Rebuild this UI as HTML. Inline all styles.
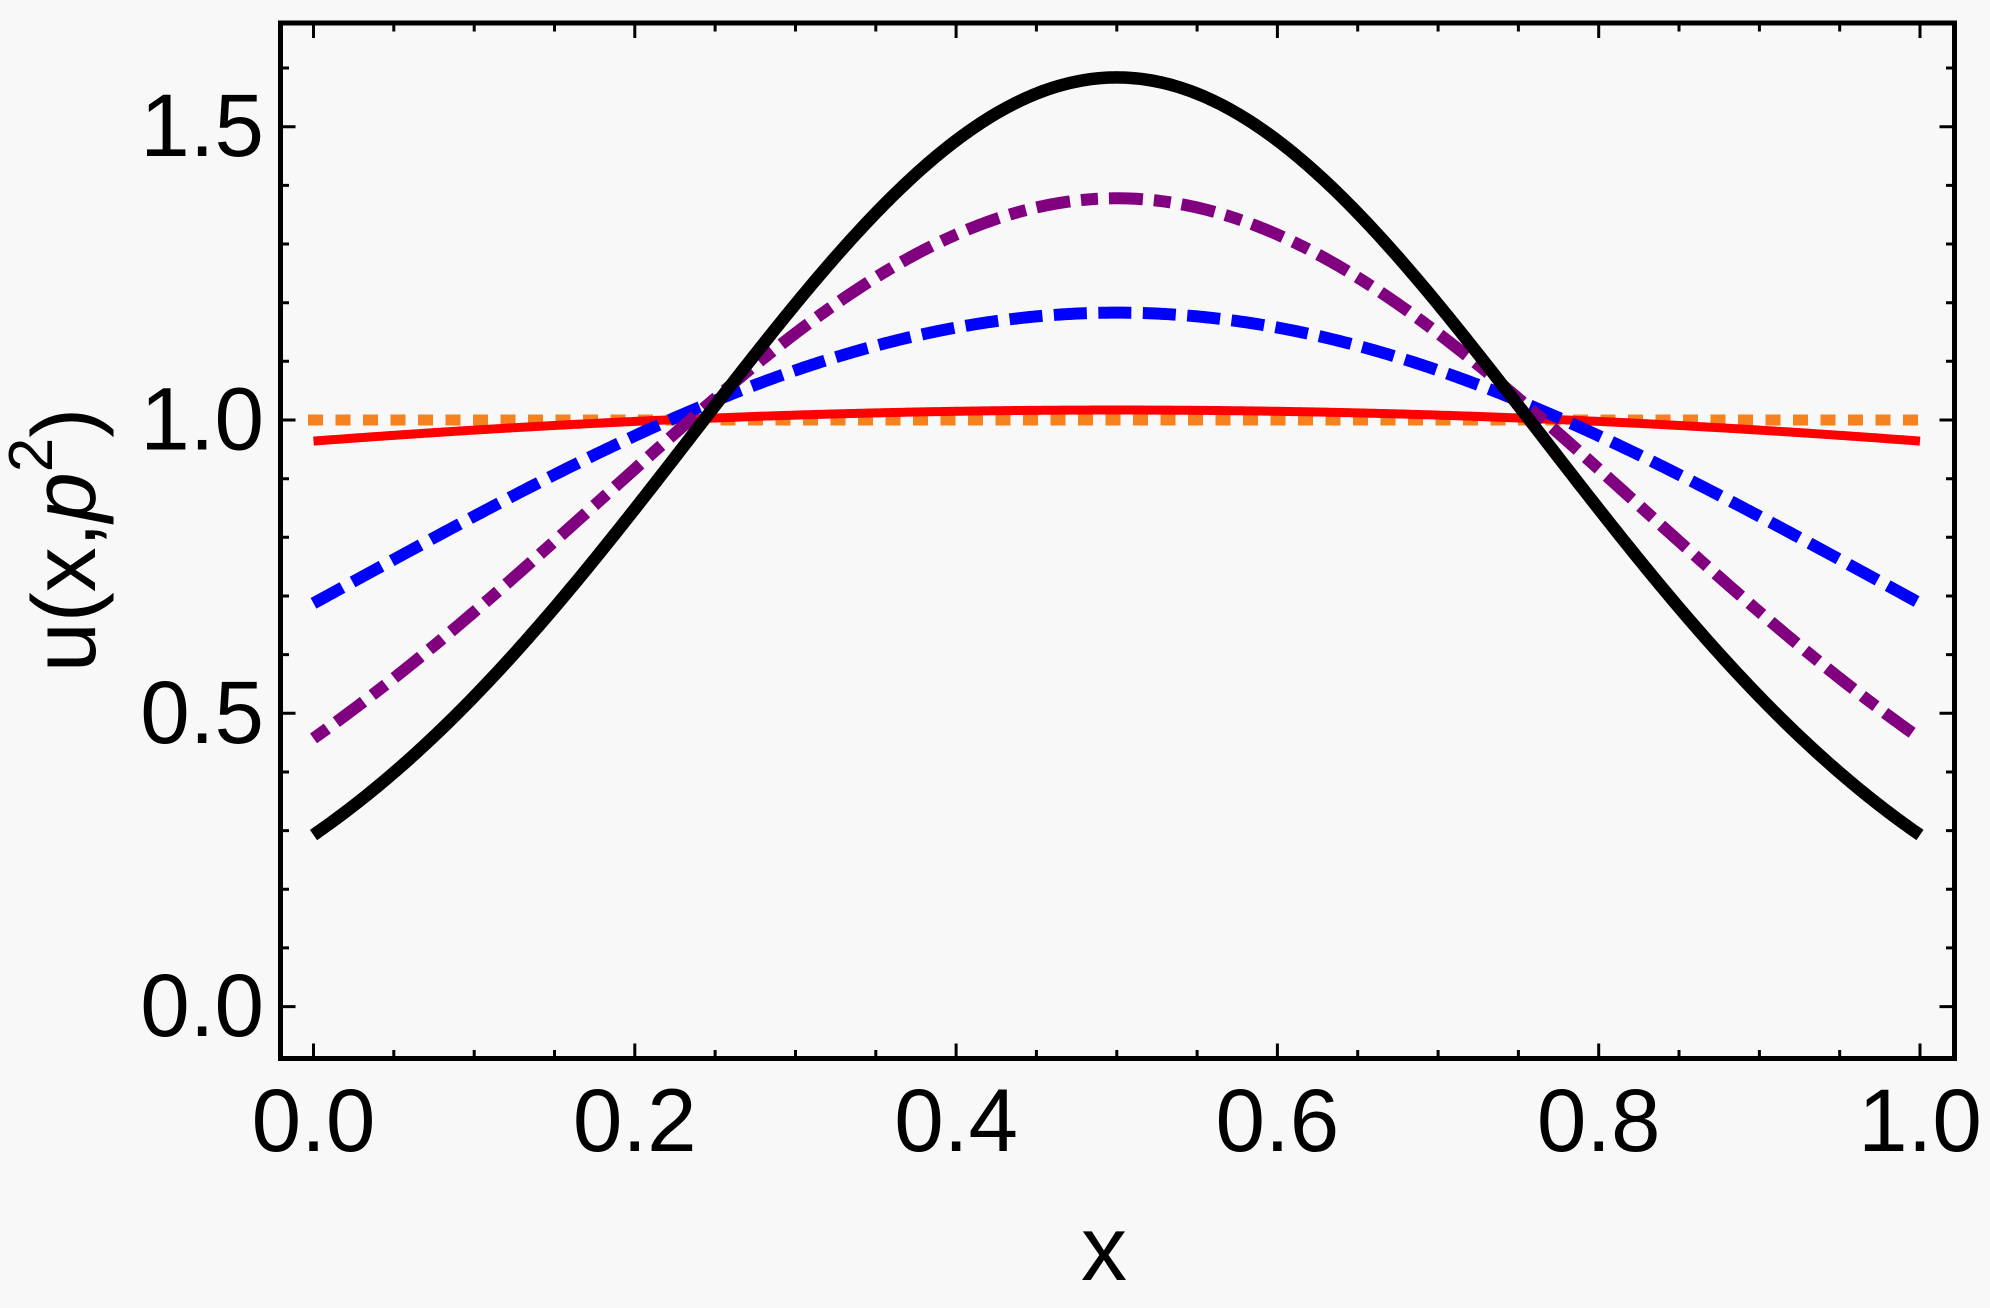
<!DOCTYPE html>
<html>
<head>
<meta charset="utf-8">
<style>
  html, body { margin: 0; padding: 0; background: #f8f8f8; }
  svg { display: block; }
  text { font-family: "Liberation Sans", Arial, sans-serif; fill: #000; }
</style>
</head>
<body>
<svg id="chart" width="1990" height="1308" viewBox="0 0 1990 1308" xmlns="http://www.w3.org/2000/svg">
  <rect x="0" y="0" width="1990" height="1308" fill="#f8f8f8"/>

  <!-- series -->
  <path id="orange" d="M308 420H1926" fill="none" stroke="#f5821f" stroke-width="11" stroke-dasharray="15 12.5"/>
  <path id="red" fill="none" stroke="#ff0000" stroke-width="9"/>
  <path id="blue" fill="none" stroke="#0000ff" stroke-width="12" stroke-dasharray="33 11.5"/>
  <path id="purple" fill="none" stroke="#800080" stroke-width="12" stroke-dasharray="17 11 34 11"/>
  <path id="black" fill="none" stroke="#000000" stroke-width="12.5"/>

  <!-- frame -->
  <rect x="280.5" y="23" width="1674" height="1035.5" fill="none" stroke="#000" stroke-width="5"/>

  <!-- ticks -->
  <path fill="none" stroke="#000" stroke-width="3" d="
    M313.5 1058.5V1043.5 M393.8 1058.5V1050 M474.2 1058.5V1050 M554.5 1058.5V1050
    M634.8 1058.5V1043.5 M715.1 1058.5V1050 M795.5 1058.5V1050 M875.8 1058.5V1050
    M956.1 1058.5V1043.5 M1036.4 1058.5V1050 M1116.8 1058.5V1050 M1197.1 1058.5V1050
    M1277.4 1058.5V1043.5 M1357.7 1058.5V1050 M1438.1 1058.5V1050 M1518.4 1058.5V1050
    M1598.7 1058.5V1043.5 M1679.0 1058.5V1050 M1759.4 1058.5V1050 M1839.7 1058.5V1050
    M1920.0 1058.5V1043.5
    M313.5 23V38 M393.8 23V31.5 M474.2 23V31.5 M554.5 23V31.5
    M634.8 23V38 M715.1 23V31.5 M795.5 23V31.5 M875.8 23V31.5
    M956.1 23V38 M1036.4 23V31.5 M1116.8 23V31.5 M1197.1 23V31.5
    M1277.4 23V38 M1357.7 23V31.5 M1438.1 23V31.5 M1518.4 23V31.5
    M1598.7 23V38 M1679.0 23V31.5 M1759.4 23V31.5 M1839.7 23V31.5
    M1920.0 23V38
    M280.5 1006.6H295.5 M280.5 947.9H289 M280.5 889.3H289 M280.5 830.6H289 M280.5 772.0H289
    M280.5 713.3H295.5 M280.5 654.6H289 M280.5 596.0H289 M280.5 537.3H289 M280.5 478.7H289
    M280.5 420.0H295.5 M280.5 361.3H289 M280.5 302.7H289 M280.5 244.0H289 M280.5 185.4H289
    M280.5 126.7H295.5 M280.5 68.0H289
    M1954.5 1006.6H1939.5 M1954.5 947.9H1946 M1954.5 889.3H1946 M1954.5 830.6H1946 M1954.5 772.0H1946
    M1954.5 713.3H1939.5 M1954.5 654.6H1946 M1954.5 596.0H1946 M1954.5 537.3H1946 M1954.5 478.7H1946
    M1954.5 420.0H1939.5 M1954.5 361.3H1946 M1954.5 302.7H1946 M1954.5 244.0H1946 M1954.5 185.4H1946
    M1954.5 126.7H1939.5 M1954.5 68.0H1946
  "/>

  <!-- y tick labels -->
  <g font-size="89" text-anchor="end">
    <text x="264" y="156.2">1.5</text>
    <text x="264" y="449.5">1.0</text>
    <text x="264" y="742.8">0.5</text>
    <text x="264" y="1036.1">0.0</text>
  </g>

  <!-- x tick labels -->
  <g font-size="89" text-anchor="middle">
    <text x="313.5" y="1151">0.0</text>
    <text x="634.8" y="1151">0.2</text>
    <text x="956.1" y="1151">0.4</text>
    <text x="1277.4" y="1151">0.6</text>
    <text x="1598.7" y="1151">0.8</text>
    <text x="1920" y="1151">1.0</text>
  </g>

  <!-- axis labels -->
  <text x="1104" y="1280" font-size="92" text-anchor="middle">x</text>
  <text transform="translate(95,540) rotate(-90)" font-size="90" text-anchor="middle">u(x,<tspan font-style="italic">p</tspan><tspan font-size="62" dy="-43">2</tspan><tspan dy="43">)</tspan></text>
</svg>

<script>
(function(){
  var X = function(x){ return 313.5 + 1606.5 * x; };
  var Y = function(u){ return 1006.6 - 586.6 * u; };
  function build(f){
    var s = '';
    for (var i = 0; i <= 500; i++) {
      var x = i / 500;
      s += (i ? 'L' : 'M') + X(x).toFixed(2) + ' ' + Y(f(x)).toFixed(2);
    }
    return s;
  }
  var fb = function(x){ var d = x - 0.5, d2 = d*d; return 1.584 * Math.exp(-(7.04*d2 - 1.13*d2*d2)); };
  var fp = function(x){ var d = x - 0.5, d2 = d*d; return 1.378 * Math.exp(-(4.6*d2 - 0.75*d2*d2)); };
  var fbl = function(x){ var d = x - 0.5; return 1.183 * Math.exp(-2.171*d*d); };
  var fr = function(x){ var d = x - 0.5; return 1.017 * Math.exp(-0.214*d*d); };
  document.getElementById('black').setAttribute('d', build(fb));
  document.getElementById('purple').setAttribute('d', build(fp));
  document.getElementById('blue').setAttribute('d', build(fbl));
  document.getElementById('red').setAttribute('d', build(fr));
})();
</script>
</body>
</html>
